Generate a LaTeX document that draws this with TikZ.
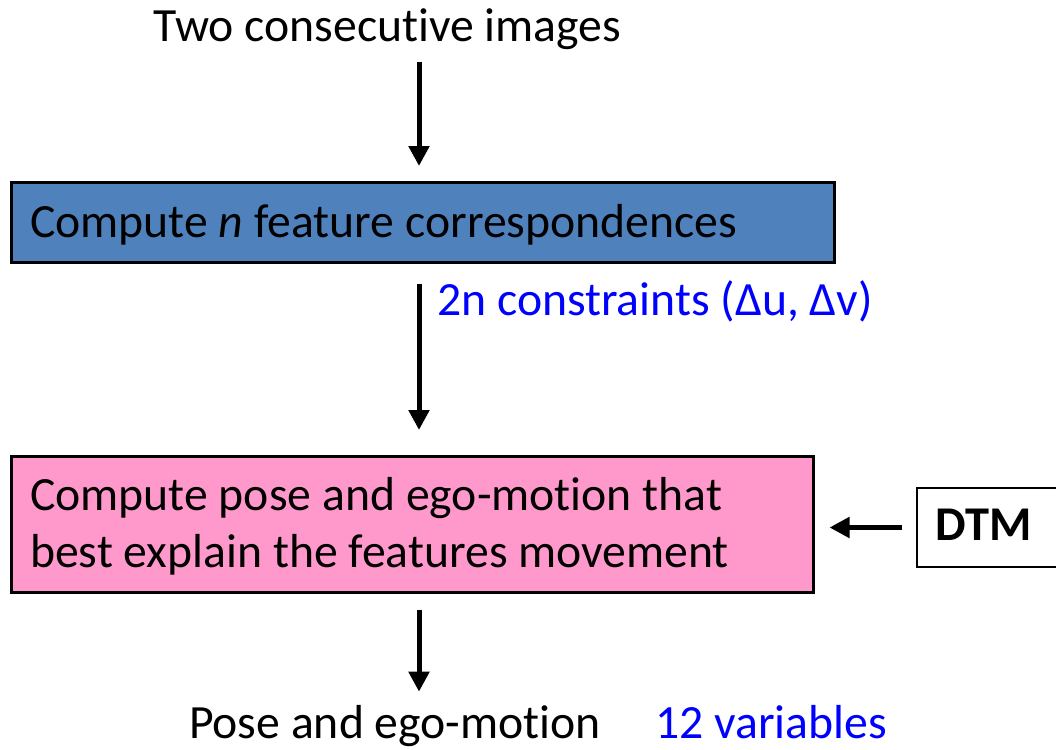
\documentclass[tikz,border=0pt]{standalone}
\usepackage{fontspec}
\setmainfont{Carlito}[RawFeature={-liga;-clig;-calt;-dlig;-rlig}]
\usetikzlibrary{arrows.meta}
\definecolor{boxblue}{HTML}{4F81BD}
\definecolor{boxpink}{HTML}{FF99CC}
\definecolor{txtblue}{HTML}{0000FF}
\tikzset{
  big/.style={font=\fontsize{47.7}{57}\selectfont, inner sep=0pt},
  arr/.style={line width=5pt, -{Triangle[width=20pt,length=20pt]}},
  box/.style={draw=black, line width=2.5pt, rectangle, inner sep=0pt},
}
\begin{document}
\begin{tikzpicture}[x=1pt,y=-1pt]
\clip (0,0) rectangle (1056,749);
\fill[white] (0,0) rectangle (1056,749);
% title
\node[big, anchor=base] (title) at (387.5,42) {Two consecut\kern0pt ive images};
% blue box
\node[box, fill=boxblue, minimum width=823pt, minimum height=80pt, anchor=north west] (blue) at (10,181) {};
\node[big, anchor=base west] (bluetxt) at (30,237) {Compute \textit{n} feature correspondences};
% constraints
\node[big, anchor=base west, text=txtblue] (cons) at (437,315) {2n constraints (Δu, Δv)};
% pink box
\node[box, fill=boxpink, minimum width=802pt, minimum height=136pt, anchor=north west] (pink) at (10,455) {};
\node[big, anchor=base west] (pinkA) at (30,510) {Compute pose and ego-mot\kern0pt ion that};
\node[big, anchor=base west] (pinkB) at (30,567) {best explain the features movement};
% DTM
\node[box, line width=2pt, minimum width=142pt, minimum height=79pt, anchor=north west] (dtm) at (916,487) {};
\node[big, font=\fontsize{48.5}{58}\selectfont\bfseries, anchor=base west] (dtmtxt) at (935,540) {DTM};
% bottom
\node[big, anchor=base] (pose) at (395,738) {Pose and ego-mot\kern0pt ion};
\node[big, anchor=base west, text=txtblue] (vars) at (655,738) {12 variables};
% arrows
\coordinate (a1s) at (419,62);
\draw[arr, shorten >=15pt] (a1s) -- (a1s |- blue.north);
\draw[arr, shorten <=20pt, shorten >=25pt] (a1s |- blue.south) -- (a1s |- pink.north);
\draw[arr, shorten <=16pt, shorten >=13pt] (a1s |- pink.south) -- (a1s |- pose.north);
\draw[arr, shorten <=14pt, shorten >=15pt] (dtm.west) -- (dtm.west -| pink.east);
\end{tikzpicture}
\end{document}
